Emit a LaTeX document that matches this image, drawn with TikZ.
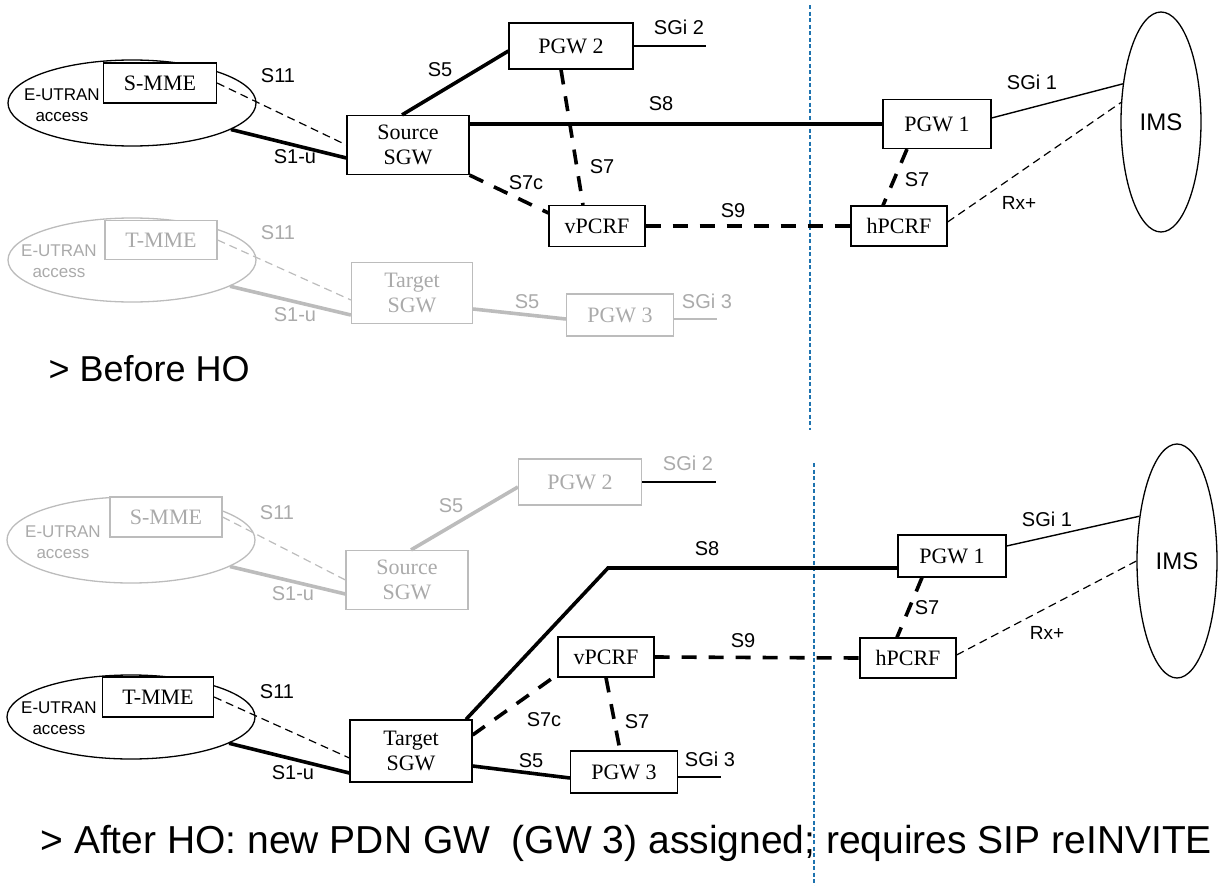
\documentclass[tikz,border=0pt]{standalone}
\usepackage{fontspec}
\setmainfont{Liberation Sans}
\newfontfamily\timesfont{Liberation Serif}
\usetikzlibrary{shapes.geometric}
\definecolor{fadeline}{RGB}{188,188,188}
\definecolor{fadetext}{RGB}{170,170,170}
\definecolor{borderblue}{RGB}{30,115,175}

\begin{document}
\begin{tikzpicture}[x=1pt, y=-1pt,
  box/.style={draw, line width=1.2pt, inner sep=0pt, align=center, font=\timesfont\fontsize{22}{25}\selectfont},
  fadebox/.style={box, draw=fadeline, text=fadetext},
  netarea/.style={draw, ellipse, line width=1.3pt, inner sep=0pt},
  fadearea/.style={netarea, draw=fadeline},
  lbl/.style={font=\fontsize{20}{24}\selectfont},
  fadelbl/.style={lbl, text=fadetext},
  rxlbl/.style={font=\fontsize{19}{22}\selectfont},
  access/.style={align=center, font=\fontsize{17}{21}\selectfont},
  uline/.style={line width=3.6pt},
  sgiline/.style={line width=1.4pt},
  ctrlline/.style={line width=3.6pt, dash pattern=on 15pt off 12pt},
  sigline/.style={line width=1.2pt, dash pattern=on 8pt off 5pt},
  bordline/.style={borderblue, line width=1.2pt, dash pattern=on 4pt off 2.5pt}
]
  \useasboundingbox (0,0) rectangle (1219,886);

  % Border visited / home network
  \coordinate (bordA) at (810,5);
  \coordinate (bordB) at (810,430);
  \coordinate (bordC) at (814,463);
  \coordinate (bordD) at (814,886);
  \draw[bordline] (bordA) -- (bordB);
  \draw[bordline] (bordC) -- (bordD);

  % Before HO: source side
  \node[netarea, minimum width=248pt, minimum height=86pt] (ranS) at (132,103) {};
  \node[access] (ranStxt) at (62,105) {E-UTRAN\\access};
  \node[box, minimum width=113pt, minimum height=40pt, fill=white] (smme) at (160,83) {S-MME};
  \node[box, minimum width=122pt, minimum height=59pt] (ssgw) at (408,145) {Source\\SGW};
  \node[box, minimum width=124pt, minimum height=46pt] (pgw2) at (571,46) {PGW 2};
  \node[box, minimum width=96pt, minimum height=41pt] (vpcrf) at (597,226) {vPCRF};
  \node[box, minimum width=108pt, minimum height=49pt] (pgw1) at (937,124) {PGW 1};
  \node[box, minimum width=96pt, minimum height=40pt] (hpcrf) at (899,226) {hPCRF};
  \node[netarea, minimum width=80pt, minimum height=220pt, font=\fontsize{24}{28}\selectfont] (ims) at (1161,122) {IMS};
  \coordinate (sgi2end) at (706,46);

  \draw[sigline] (smme.east) -- (ssgw.west);
  \draw[uline] (ranS.-15) -- ([yshift=-13pt]ssgw.west);
  \draw[uline] ([xshift=-6pt]ssgw.north) -- ([yshift=-5pt]pgw2.west);
  \draw[sgiline] (pgw2.east) -- (sgi2end);
  \draw[uline] (pgw1.west -| ssgw.east) -- (pgw1.west);
  \draw[ctrlline] ([xshift=-10pt]pgw2.south) -- ([xshift=-14pt]vpcrf.north);
  \draw[ctrlline] (ssgw.south east) -- ([yshift=13pt]vpcrf.west);
  \draw[ctrlline] (vpcrf.east) -- (hpcrf.west);
  \draw[ctrlline] ([xshift=-30pt]pgw1.south) -- ([xshift=-16pt]hpcrf.north);
  \draw[sgiline] ([yshift=6pt]pgw1.east) -- (ims.135);
  \draw[sigline] ([yshift=4pt]hpcrf.east) -- (ims.154);

  \node[lbl] (lS11a) at (278,76) {S11};
  \node[lbl] (lS1a) at (295,157) {S1-u};
  \node[lbl] (lS5a) at (440,70) {S5};
  \node[lbl] (lSGi2a) at (679,27) {SGi 2};
  \node[lbl] (lS8a) at (661,104) {S8};
  \node[lbl] (lS7a) at (602,167) {S7};
  \node[lbl] (lS7ca) at (526,183) {S7c};
  \node[lbl] (lS9a) at (733,211) {S9};
  \node[lbl] (lS7ha) at (917,180) {S7};
  \node[lbl] (lSGi1a) at (1032,82) {SGi 1};
  \node[rxlbl] (lRxa) at (1019,203) {Rx+};

  % Before HO: target side (not in use)
  \node[fadearea, minimum width=248pt, minimum height=84pt] (ranT) at (132,260) {};
  \node[access, text=fadetext] (ranTtxt) at (59,261) {E-UTRAN\\access};
  \node[fadebox, minimum width=112pt, minimum height=39pt, fill=white] (tmme) at (161,240) {T-MME};
  \node[fadebox, minimum width=121pt, minimum height=61pt] (tsgw) at (412,293) {Target\\SGW};
  \node[fadebox, minimum width=107pt, minimum height=42pt] (pgw3) at (620,315) {PGW 3};
  \coordinate (sgi3end) at (717,319);

  \draw[sigline, fadeline] (tmme.east) -- ([yshift=-7pt]tsgw.west);
  \draw[uline, fadeline] (ranT.-15) -- ([yshift=-22pt]tsgw.west);
  \draw[uline, fadeline] ([yshift=-16pt]tsgw.east) -- ([yshift=-4pt]pgw3.west);
  \draw[sgiline, fadeline] ([yshift=-4pt]pgw3.east) -- (sgi3end);

  \node[fadelbl] (lS11b) at (278,233) {S11};
  \node[fadelbl] (lS1b) at (295,315) {S1-u};
  \node[fadelbl] (lS5b) at (527,302) {S5};
  \node[fadelbl] (lSGi3b) at (707,301) {SGi 3};

  \node[anchor=west, font=\fontsize{36}{40}\selectfont] (before) at (45,369) {> Before HO};

  % After HO: old source side
  \node[fadearea, minimum width=248pt, minimum height=86pt] (ranS2) at (131,540) {};
  \node[access, text=fadetext] (ranS2txt) at (63,542) {E-UTRAN\\access};
  \node[fadebox, minimum width=112pt, minimum height=40pt, fill=white] (smme2) at (166,517) {S-MME};
  \node[fadebox, minimum width=122pt, minimum height=59pt] (ssgw2) at (407,580) {Source\\SGW};
  \node[fadebox, minimum width=123pt, minimum height=46pt] (pgw2b) at (580,482) {PGW 2};
  \coordinate (sgi2endb) at (716,482);

  \draw[sigline, fadeline] (smme2.east) -- (ssgw2.west);
  \draw[uline, fadeline] (ranS2.-15) -- ([yshift=-14pt]ssgw2.west);
  \draw[uline, fadeline] ([xshift=4pt]ssgw2.north) -- ([yshift=-5pt]pgw2b.west);
  \draw[sgiline] (pgw2b.east) -- (sgi2endb);

  \node[fadelbl] (lS11c) at (277,513) {S11};
  \node[fadelbl] (lS1c) at (293,594) {S1-u};
  \node[fadelbl] (lS5c) at (451,506) {S5};
  \node[fadelbl] (lSGi2c) at (688,463) {SGi 2};

  % After HO: target side
  \node[netarea, minimum width=248pt, minimum height=84pt] (ranT2) at (131,717) {};
  \node[access] (ranT2txt) at (59,718) {E-UTRAN\\access};
  \node[box, minimum width=111pt, minimum height=40pt, fill=white] (tmme2) at (158,697) {T-MME};
  \node[box, minimum width=122pt, minimum height=62pt] (tsgw2) at (411,751) {Target\\SGW};
  \node[box, minimum width=96pt, minimum height=40pt] (vpcrf2) at (606,657) {vPCRF};
  \node[box, minimum width=107pt, minimum height=42pt] (pgw3b) at (624,772) {PGW 3};
  \node[box, minimum width=108pt, minimum height=42pt] (pgw1b) at (952,556) {PGW 1};
  \node[box, minimum width=96pt, minimum height=40pt] (hpcrf2) at (908,658) {hPCRF};
  \node[netarea, minimum width=80pt, minimum height=234pt, font=\fontsize{24}{28}\selectfont] (ims2) at (1177,561) {IMS};
  \coordinate (bend) at (608,568);
  \coordinate (sgi3endb) at (721,777);

  \draw[sigline] (tmme2.east) -- ([yshift=-7pt]tsgw2.west);
  \draw[uline] (ranT2.-15) -- ([yshift=-22pt]tsgw2.west);
  \draw[uline] ([xshift=55pt]tsgw2.north) -- (bend) -- (bend -| pgw1b.west);
  \draw[ctrlline] ([yshift=16pt]tsgw2.east) -- ([yshift=3pt]vpcrf2.south west);
  \draw[ctrlline] (vpcrf2.south) -- ([xshift=-4pt]pgw3b.north);
  \draw[uline] ([yshift=-15pt]tsgw2.east) -- ([yshift=-6pt]pgw3b.west);
  \draw[sgiline] ([yshift=-5pt]pgw3b.east) -- (sgi3endb);
  \draw[ctrlline] (vpcrf2.east) -- (hpcrf2.west);
  \draw[ctrlline] ([xshift=-30pt]pgw1b.south) -- ([xshift=-11pt]hpcrf2.north);
  \draw[sgiline] ([yshift=10pt]pgw1b.east) -- (ims2.130);
  \draw[sigline] ([yshift=3pt]hpcrf2.east) -- (ims2.180);

  \node[lbl] (lS11d) at (277,692) {S11};
  \node[lbl] (lS1d) at (293,773) {S1-u};
  \node[lbl] (lS8d) at (707,549) {S8};
  \node[lbl] (lS7cd) at (544,720) {S7c};
  \node[lbl] (lS7d) at (637,722) {S7};
  \node[lbl] (lS5d) at (531,761) {S5};
  \node[lbl] (lSGi3d) at (710,759) {SGi 3};
  \node[lbl] (lS9d) at (743,641) {S9};
  \node[lbl] (lS7hd) at (927,608) {S7};
  \node[lbl] (lSGi1d) at (1047,519) {SGi 1};
  \node[rxlbl] (lRxd) at (1047,633) {Rx+};

  \node[anchor=west, font=\fontsize{39}{43}\selectfont] (after) at (37,843) {> After HO: new PDN GW~ (GW 3) assigned; requires SIP reINVITE};
\end{tikzpicture}
\end{document}
